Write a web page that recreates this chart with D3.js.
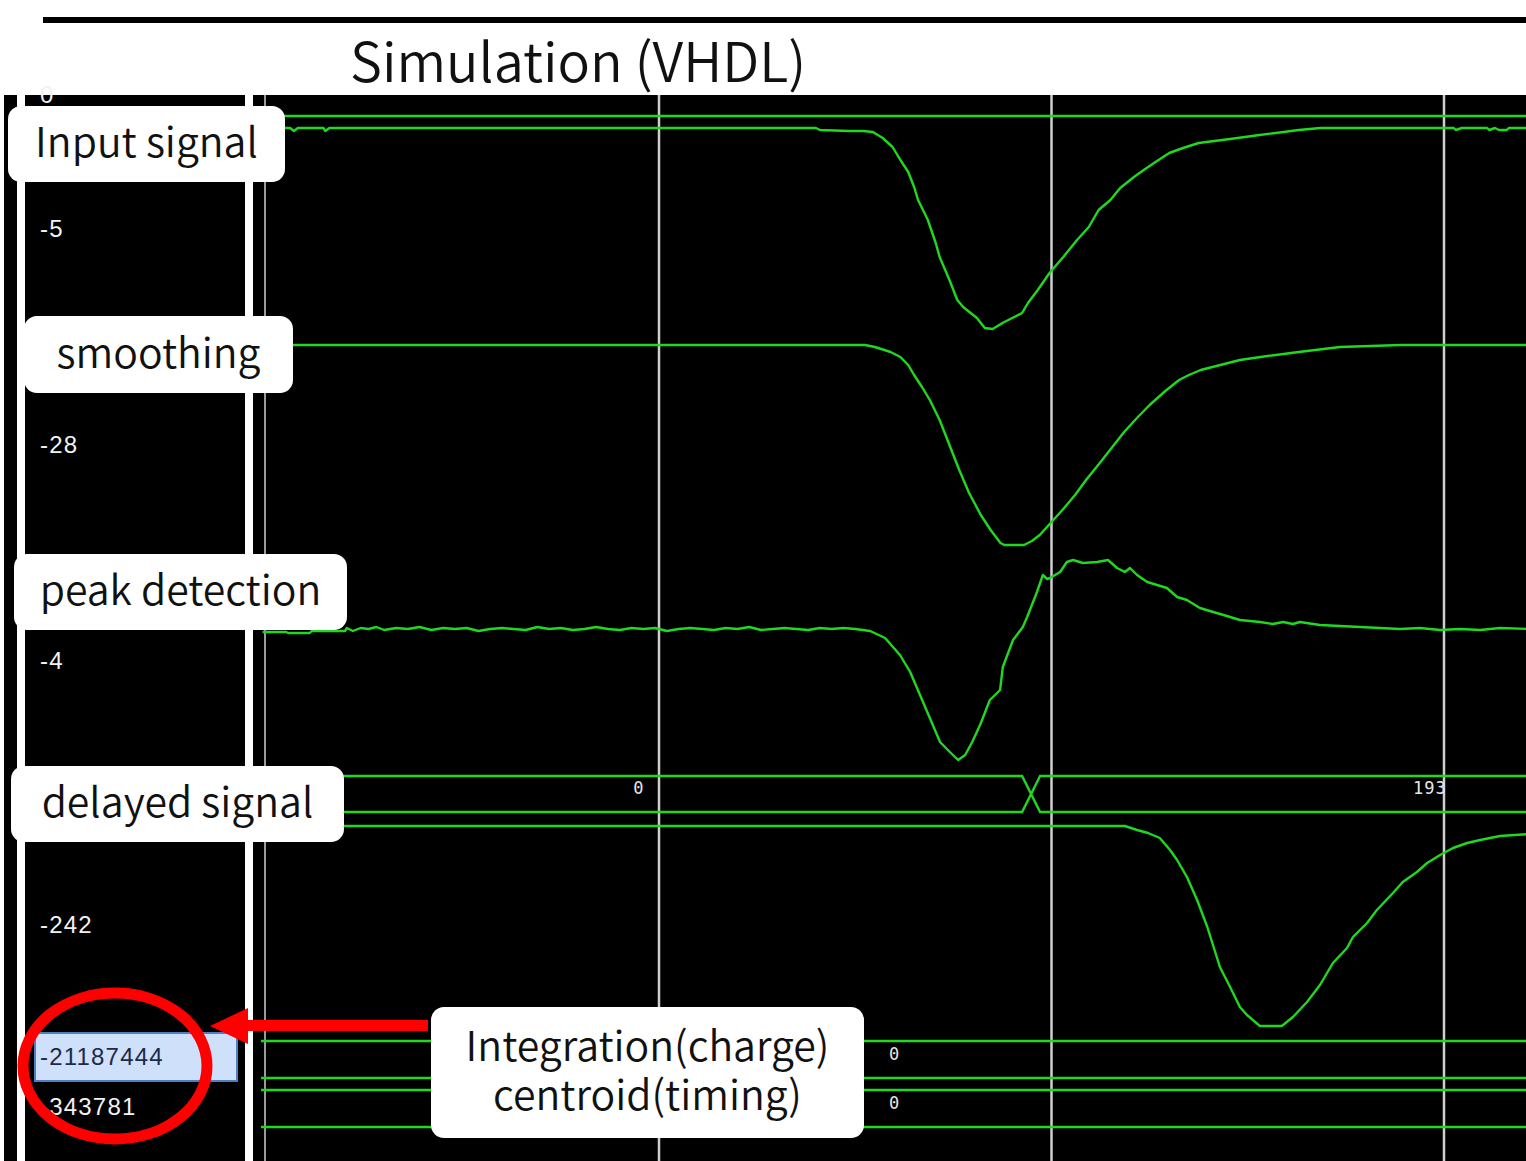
<!DOCTYPE html>
<html>
<head>
<meta charset="utf-8">
<script src="https://cdn.jsdelivr.net/npm/d3@7"></script>
<style>
body { margin: 0; background: #fff; }
svg { display: block; }
</style>
</head>
<body>
<div></div>
<script>
var width = 1526;
var height = 1161;

var title = 'Simulation (VHDL)';

// wave window time axis (ns), a grid line every 100
var gridTimes = [100, 200, 300];

// analog traces as [time, value]; 0 = baseline, -100 = deepest point
var inputSignal = [
    [-1, 0], [6, 0], [7, -1.5], [8, 0], [14.5, 0], [15, -1.5], [16, 0], [140, 0],
    [141, -1], [148.5, -1.5], [152, -1.5], [154.5, -2], [157, -5], [159.5, -9.5],
    [161.5, -16], [163.5, -22], [165, -29.5], [166, -36], [168.5, -46], [170.5, -57.5],
    [171.5, -64.5], [174, -76], [176, -86], [177.5, -89.5], [181, -95], [183, -100],
    [185, -100.5], [187.5, -97.5], [190, -95], [192.5, -92.5], [194, -87.5], [196.5, -81],
    [199.5, -72.5], [203, -64.5], [206.5, -56], [209.5, -49.5], [212, -41], [215, -36],
    [217.5, -30], [221, -24.5], [223.5, -21], [226.5, -17], [230, -12.5], [233.5, -10],
    [237.5, -7.5], [245.5, -5.5], [253, -3.5], [263, -1], [268.5, 0], [302.5, 0],
    [303, -1], [304.5, 0], [311, 0], [311.5, -1], [313, 0], [314, -1], [316, -1],
    [316.5, 0], [322, 0]
];

var smoothing = [
    [-1, 0], [152.5, 0], [155, -1], [159, -3.5], [161.5, -6], [163.5, -10], [165, -15],
    [167, -21], [169, -27.5], [171.5, -37.5], [174, -50], [176.5, -62.5], [179, -74],
    [182, -85], [184.5, -92.5], [187, -99], [188, -100], [193, -100], [195, -98],
    [197, -95], [200, -88.5], [203, -82], [206, -75], [209, -67], [212.5, -58.5],
    [215.5, -51], [218.5, -43.5], [222, -36], [225, -30], [229, -23], [232.5, -17.5],
    [235, -15], [238, -12.5], [243, -10], [248, -7.5], [255, -5.5], [263, -3.5],
    [273.5, -1], [289, 0], [322, 0]
];

var peakDetection = [
    [-1, -1.5], [5, -1.5], [5.5, -2], [11, -2], [11.5, -1], [20, -1], [20.5, 0.5],
    [22, -1], [24, 0.5], [26, 0], [28, 1], [30, -0.5], [33, 0.5], [36, 0], [39, 1],
    [42, -0.5], [45, 0.5], [48, 0], [51, 0.5], [54, -1], [57, 0], [60, 0.5], [63, 0],
    [66, -0.5], [69, 1], [72, 0], [75, 0.5], [78, -0.5], [81, 0], [84, 1], [87, 0],
    [90, -0.5], [93, 0.5], [96, 0], [99, 0.5], [102, -1], [105, 0], [108, 0.5], [111, 0],
    [114, -0.5], [117, 0.5], [120, 0], [123, 1], [126, -0.5], [129, 0], [132, 0.5],
    [135, 0], [138, -0.5], [141, 0.5], [144, 0], [147, 0.5], [150, 0],
    [153.8, -1], [157.6, -4.5], [161.4, -13], [164, -21.5], [166.5, -33], [169, -44.5],
    [171.6, -56.5], [174.1, -61.5], [176.2, -65.5], [178, -63], [179.8, -56.5],
    [181.8, -48], [184.3, -35.5], [186.9, -30.5], [187.6, -19], [190.2, -5.5],
    [192.7, 1], [193.8, 6], [195, 12], [196.3, 18.5], [197.8, 27], [198.9, 25],
    [199.6, 25.5], [202.2, 28.5], [203.9, 33.5], [205.5, 34.5], [208, 33], [211.6, 33.5],
    [214.4, 34.5], [216.7, 30.5], [218.7, 28.5], [220, 30.5], [221.8, 27], [224.4, 23.5],
    [226.9, 22], [229.4, 20.5], [232, 16], [234.5, 14.5], [237.8, 10.5], [241.2, 8.5],
    [244.7, 6.5], [248, 4.5], [253.1, 3.5], [256.4, 2.5], [259, 3.5], [261.5, 2.5],
    [263.3, 3.5], [268.4, 2], [273.5, 1.5], [278.6, 1], [283.7, 0.5], [288.8, 0],
    [293.9, 0.5], [299, -0.5], [304.1, 0], [309.2, -0.5], [314.3, 0.5], [322, 0]
];

var delayedSignal = [
    [-1, 0], [218.7, 0], [221.8, -2], [224.6, -3.5], [227.6, -6], [230.2, -12],
    [232, -17], [234.5, -25.5], [237.1, -37], [239.7, -50.5], [242.9, -70.5],
    [245.5, -80.5], [248, -90.5], [249.8, -94.5], [253.1, -100], [258.7, -100],
    [261.5, -95.5], [265.1, -88], [268.4, -79.5], [271.7, -68.5], [275.3, -61],
    [276.8, -55.5], [280.4, -48.5], [282.9, -42], [287, -33.5], [289.5, -28],
    [293.1, -23], [295.7, -18.5], [299, -14.5], [302.3, -11], [305.9, -8.5],
    [309.2, -7], [314.3, -5], [322, -4]
];

// bus traces as [start, end, value]
var topBus = [[-5, 325, '']];
var delayedBus = [[-5, 194.8, '0'], [194.8, 398, '193']];
var integrationBus = [[-5, 325, '0']];
var centroidBus = [[-5, 325, '0']];

// values column
var valueLabels = ['0', '-5', '-28', '-4', '-242', '-21187444', '-343781'];

// annotation boxes
var boxLabels = [
    ['Input signal'],
    ['smoothing'],
    ['peak detection'],
    ['delayed signal'],
    ['Integration(charge)', 'centroid(timing)']
];

// ---- layout ----
var green = '#1fd81f';
var panelTop = 95;
var labelFont = '"Noto Sans CJK JP", "Noto Sans", sans-serif';
var valueLabelY = [103, 237, 453, 669, 933, 1065, 1115];
var boxes = [
    { x: 8, y: 106, w: 277, h: 76 },
    { x: 24, y: 316, w: 269, h: 77 },
    { x: 14, y: 554, w: 333, h: 76 },
    { x: 11, y: 766, w: 333, h: 76 },
    { x: 431, y: 1007, w: 433, h: 131 }
];

var svg = d3.select('div')
    .append('svg').attr('width', width).attr('height', height);

// heading rule and title
svg.append('rect').attr('x', 43).attr('y', 17).attr('width', width - 43).attr('height', 6).attr('fill', '#000');
svg.append('text')
    .attr('x', 578).attr('y', 82)
    .attr('text-anchor', 'middle')
    .attr('font-family', labelFont)
    .attr('font-weight', 350)
    .attr('font-size', 54)
    .attr('fill', '#111')
    .text(title);

// simulator window
svg.append('rect').attr('x', 4).attr('y', panelTop).attr('width', width - 4).attr('height', height - panelTop).attr('fill', '#000');
svg.append('rect').attr('x', 17).attr('y', panelTop).attr('width', 8).attr('height', height - panelTop).attr('fill', '#fff');
svg.append('rect').attr('x', 245).attr('y', panelTop).attr('width', 8).attr('height', height - panelTop).attr('fill', '#fff');

var x = d3.scaleLinear().domain([0, 300]).range([266.5, 1444]);

svg.append('clipPath').attr('id', 'wave-clip')
    .append('rect').attr('x', 261).attr('y', panelTop).attr('width', width - 261).attr('height', height - panelTop);

var g = svg.append('g').attr('clip-path', 'url(#wave-clip)');

g.append('line')
    .attr('x1', 265).attr('x2', 265).attr('y1', panelTop).attr('y2', height)
    .attr('stroke', '#9a9a9a').attr('stroke-width', 2);

g.selectAll('.grid')
    .data(gridTimes)
    .enter()
    .append('line')
    .attr('class', 'grid')
    .attr('x1', function (d) { return x(d); })
    .attr('x2', function (d) { return x(d); })
    .attr('y1', panelTop).attr('y2', height)
    .attr('stroke', '#cfcfcf').attr('stroke-width', 2.5);

// analog rows: baseline pixel, 2px per unit
function analog(data, base) {
    var y = d3.scaleLinear().domain([0, -100]).range([base, base + 200]);
    var line = d3.line()
        .x(function (d) { return x(d[0]); })
        .y(function (d) { return y(d[1]); });
    g.append('path')
        .datum(data)
        .attr('d', line)
        .attr('fill', 'none')
        .attr('stroke', green)
        .attr('stroke-width', 2.4)
        .attr('stroke-linejoin', 'round');
}

analog(inputSignal, 128);
analog(smoothing, 345);
analog(peakDetection, 629);
analog(delayedSignal, 826);

// bus rows: hexagon per value, crossing at transitions
function bus(data, top, bottom) {
    var mid = (top + bottom) / 2;
    var h = 9;
    var rows = g.selectAll(null)
        .data(data)
        .enter()
        .append('g');
    rows.append('path')
        .attr('d', function (d) {
            var x0 = x(d[0]), x1 = x(d[1]);
            return 'M' + x0 + ',' + mid + 'L' + (x0 + h) + ',' + top + 'L' + (x1 - h) + ',' + top +
                'L' + x1 + ',' + mid + 'L' + (x1 - h) + ',' + bottom + 'L' + (x0 + h) + ',' + bottom + 'Z';
        })
        .attr('fill', 'none')
        .attr('stroke', green)
        .attr('stroke-width', 2.4);
    rows.append('text')
        .attr('x', function (d) { return (x(d[0]) + x(d[1])) / 2; })
        .attr('y', mid)
        .attr('text-anchor', 'middle')
        .attr('font-family', '"DejaVu Sans Mono", monospace')
        .attr('font-size', 17)
        .attr('letter-spacing', 1)
        .attr('fill', '#e6e6e6')
        .text(function (d) { return d[2]; });
}

bus(topBus, 79, 116);
bus(delayedBus, 776, 812);
bus(integrationBus, 1041, 1078);
bus(centroidBus, 1090, 1127);

// values column
svg.append('rect')
    .attr('x', 35).attr('y', 1033).attr('width', 202).attr('height', 48)
    .attr('fill', '#cfe0fb').attr('stroke', '#4f7fc0').attr('stroke-width', 2);

svg.selectAll('.value')
    .data(valueLabels)
    .enter()
    .append('text')
    .attr('class', 'value')
    .attr('x', 40)
    .attr('y', function (d, i) { return valueLabelY[i]; })
    .attr('font-family', '"Liberation Sans", Arial, sans-serif')
    .attr('font-size', 24)
    .attr('letter-spacing', 1.2)
    .attr('fill', function (d, i) { return i === 5 ? '#1c2a48' : '#f2f2f2'; })
    .text(function (d) { return d; });

// annotation boxes
var box = svg.selectAll('.box')
    .data(boxLabels)
    .enter()
    .append('g')
    .attr('class', 'box');

box.append('rect')
    .attr('x', function (d, i) { return boxes[i].x; })
    .attr('y', function (d, i) { return boxes[i].y; })
    .attr('width', function (d, i) { return boxes[i].w; })
    .attr('height', function (d, i) { return boxes[i].h; })
    .attr('rx', 13)
    .attr('fill', '#fff');

box.each(function (d, i) {
    var b = boxes[i];
    var lineGap = 49;
    var first = b.y + b.h / 2 + 13 - (d.length - 1) * lineGap / 2;
    var text = d3.select(this).append('text')
        .attr('y', first)
        .attr('text-anchor', 'middle')
        .attr('font-family', labelFont)
        .attr('font-weight', 350)
        .attr('font-size', 41)
        .attr('fill', '#111');
    text.selectAll('tspan')
        .data(d)
        .enter()
        .append('tspan')
        .attr('x', b.x + b.w / 2)
        .attr('dy', function (t, j) { return j === 0 ? 0 : lineGap; })
        .text(function (t) { return t; });
});

// red callout
svg.append('rect').attr('x', 240).attr('y', 1020).attr('width', 188).attr('height', 11).attr('fill', '#f00');
svg.append('path').attr('d', 'M210,1026L248,1008L248,1044Z').attr('fill', '#f00');
svg.append('ellipse')
    .attr('cx', 115).attr('cy', 1066).attr('rx', 92).attr('ry', 73)
    .attr('fill', 'none').attr('stroke', '#f00').attr('stroke-width', 11);
</script>
</body>
</html>
